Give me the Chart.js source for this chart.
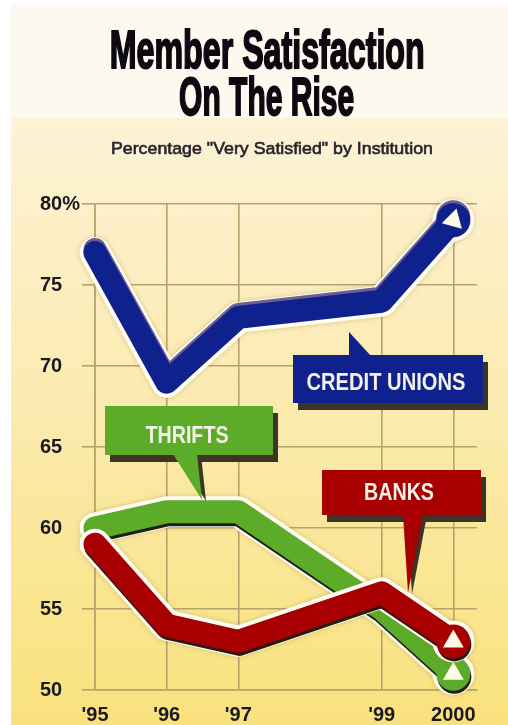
<!DOCTYPE html>
<html>
<head>
<meta charset="utf-8">
<script src="https://cdn.jsdelivr.net/npm/chart.js@4.4.1/dist/chart.umd.min.js"></script>
<style>
  html, body { margin: 0; padding: 0; background: #fff; }
  #wrap { position: relative; width: 508px; height: 725px; overflow: hidden; }
  .ttl { position: absolute; white-space: nowrap; transform-origin: 50% 50%; font-family: 'Liberation Sans', Arial, sans-serif; }
  .big { font-size: 53px; line-height: 53px; font-weight: bold; color: #0c0a10; -webkit-text-stroke: 2px #0c0a10; }
  .sub { font-size: 17px; line-height: 17px; top: 140px; color: #26222f; -webkit-text-stroke: 0.6px #26222f; }
</style>
</head>
<body>
<div id="wrap">
  <canvas id="chart"></canvas>
  <div class="ttl big" id="t1" style="top:23px">Member Satisfaction</div>
  <div class="ttl big" id="t2" style="top:70px">On The Rise</div>
  <div class="ttl sub" id="t3">Percentage "Very Satisfied" by Institution</div>
</div>
<script>
// data
const years = [1995, 1996, 1997, 1999, 2000];
const yearLabels = ["'95", "'96", "'97", "'99", "2000"];
const creditUnions = [77, 69, 73, 74, 79];
const thrifts = [60, 61, 61, 55, 51];
const banks = [59, 54, 53, 56, 53];
const yTicks = [50, 55, 60, 65, 70, 75, 80];

const BLUE = '#0e218c', GREEN = '#5cac2a', RED = '#a80000';
const GRID = '#b9a26a';
const FONT = "'Liberation Sans', Arial, sans-serif";

function pts(vals) { return vals.map((v, i) => ({ x: years[i], y: v })); }
function lastOnly(vals) { return vals.map((v, i) => ({ x: years[i], y: i === vals.length - 1 ? v : null })); }
function endRadius(r) { return years.map((_, i) => i === years.length - 1 ? r : 0); }

// outline, coloured line, white arrow in the end circle
function series(vals, color, shadow, rot, order) {
  return [
    { data: pts(vals), borderColor: '#fffdf2', borderWidth: 31, pointRadius: endRadius(21),
      pointBackgroundColor: '#fffdf2', pointBorderWidth: 0, order: order + 2, clip: false,
      shadow: { color: 'rgba(150,120,50,0.35)', x: 0, y: 0, blur: 5 } },
    { data: pts(vals), borderColor: color, borderWidth: 23, pointRadius: endRadius(17),
      pointBackgroundColor: color, pointBorderWidth: 0, order: order + 1, clip: false, shadow: shadow },
    { data: lastOnly(vals), showLine: false, pointStyle: 'triangle', pointRadius: 12, pointRotation: rot,
      pointBackgroundColor: '#fffbe6', pointBorderWidth: 0, order: order, clip: false }
  ];
}

const callouts = [
  { text: 'CREDIT UNIONS', color: BLUE, box: [293, 355, 190, 48], ptr: [[349, 356], [349, 332], [371, 356]], ptrShadow: false, tx: 386, ty: 390, tw: 159 },
  { text: 'THRIFTS', color: GREEN, box: [105, 406, 168, 49], ptr: [[173, 454], [202, 500], [197, 454]], ptrShadow: true, tx: 187, ty: 443, tw: 83 },
  { text: 'BANKS', color: RED, box: [322, 470, 159, 45], ptr: [[403, 514], [408, 593], [423, 514]], ptrShadow: true, tx: 399, ty: 500, tw: 70 }
];

function tri(ctx, p, dx, dy) {
  ctx.beginPath();
  p.forEach((q, i) => i ? ctx.lineTo(q[0] + dx, q[1] + dy) : ctx.moveTo(q[0] + dx, q[1] + dy));
  ctx.closePath();
  ctx.fill();
}

const background = {
  id: 'background',
  beforeDraw(chart) {
    const ctx = chart.ctx;
    ctx.save();
    ctx.fillStyle = '#fdf9ef';
    ctx.fillRect(11, 5, 497, 113);
    const g = ctx.createLinearGradient(0, 118, 0, 725);
    g.addColorStop(0, '#fdf2d6');
    g.addColorStop(0.45, '#fbebb1');
    g.addColorStop(1, '#f9e27c');
    ctx.fillStyle = g;
    ctx.fillRect(11, 118, 497, 607);
    ctx.restore();
  }
};

const shadows = {
  id: 'shadows',
  beforeDatasetDraw(chart, args) {
    const s = chart.data.datasets[args.index].shadow;
    const ctx = chart.ctx;
    ctx.save();
    if (s) {
      ctx.shadowColor = s.color;
      ctx.shadowOffsetX = s.x;
      ctx.shadowOffsetY = s.y;
      ctx.shadowBlur = s.blur;
    }
  },
  afterDatasetDraw(chart) { chart.ctx.restore(); }
};

const labels = {
  id: 'labels',
  afterDatasetsDraw(chart) {
    const ctx = chart.ctx;
    callouts.forEach(c => {
      const [x, y, w, h] = c.box;
      ctx.save();
      ctx.fillStyle = '#3b3427';
      ctx.fillRect(x + 5, y + 7, w, h);
      if (c.ptrShadow) tri(ctx, c.ptr, 4, 1);
      ctx.fillStyle = c.color;
      ctx.fillRect(x, y, w, h);
      tri(ctx, c.ptr, 0, 0);
      ctx.font = 'bold 23px ' + FONT;
      const m = ctx.measureText(c.text).width;
      ctx.translate(c.tx, c.ty);
      ctx.scale(c.tw / m, 1);
      ctx.fillStyle = '#f3f1ea';
      ctx.textAlign = 'center';
      ctx.textBaseline = 'alphabetic';
      ctx.fillText(c.text, 0, 0);
      ctx.restore();
    });
  }
};

const tickFont = { family: FONT, size: 20, weight: 'bold' };

new Chart(document.getElementById('chart'), {
  type: 'line',
  data: {
    datasets: [
      ...series(creditUnions, BLUE, { color: '#6d5f91', x: 0, y: -3, blur: 0 }, 135, 1),
      ...series(banks, RED, { color: '#2a1a10', x: 1, y: 3, blur: 0 }, 0, 4),
      ...series(thrifts, GREEN, { color: '#1f1f12', x: 1, y: 3, blur: 0 }, 0, 7)
    ]
  },
  options: {
    responsive: true,
    maintainAspectRatio: false,
    animation: false,
    events: [],
    layout: { padding: { left: 40, top: 204, right: 31, bottom: 0 } },
    elements: { line: { tension: 0, borderCapStyle: 'round', borderJoinStyle: 'round', fill: false } },
    plugins: { legend: { display: false }, tooltip: { enabled: false } },
    scales: {
      x: {
        type: 'linear', min: 1995, max: 2000.33,
        afterBuildTicks: s => { s.ticks = years.map(v => ({ value: v })); },
        afterFit: s => { s.height = 35; },
        grid: { color: GRID, lineWidth: 1.6, drawTicks: false },
        border: { color: GRID, width: 1.6 },
        ticks: { padding: 13, color: '#1b1820', font: tickFont, maxRotation: 0, autoSkip: false,
          callback: v => yearLabels[years.indexOf(v)] }
      },
      y: {
        min: 50, max: 80,
        afterBuildTicks: s => { s.ticks = yTicks.map(v => ({ value: v })); },
        afterFit: s => { s.width = 55; },
        grid: { color: GRID, lineWidth: 1.6, tickLength: 13 },
        border: { color: GRID, width: 1.6 },
        ticks: { crossAlign: 'far', padding: 0, color: '#1b1820', font: tickFont,
          callback: v => v === 80 ? '80%' : String(v) }
      }
    }
  },
  plugins: [background, shadows, labels]
});

// squeeze the headline to the condensed look of the original
function fitTitle(id, cx, width) {
  const el = document.getElementById(id);
  const w = el.getBoundingClientRect().width;
  el.style.left = (cx - w / 2) + 'px';
  el.style.transform = 'scaleX(' + (width / w) + ')';
}
fitTitle('t1', 267.5, 315);
fitTitle('t2', 266.5, 175);
fitTitle('t3', 272, 322);
</script>
</body>
</html>
